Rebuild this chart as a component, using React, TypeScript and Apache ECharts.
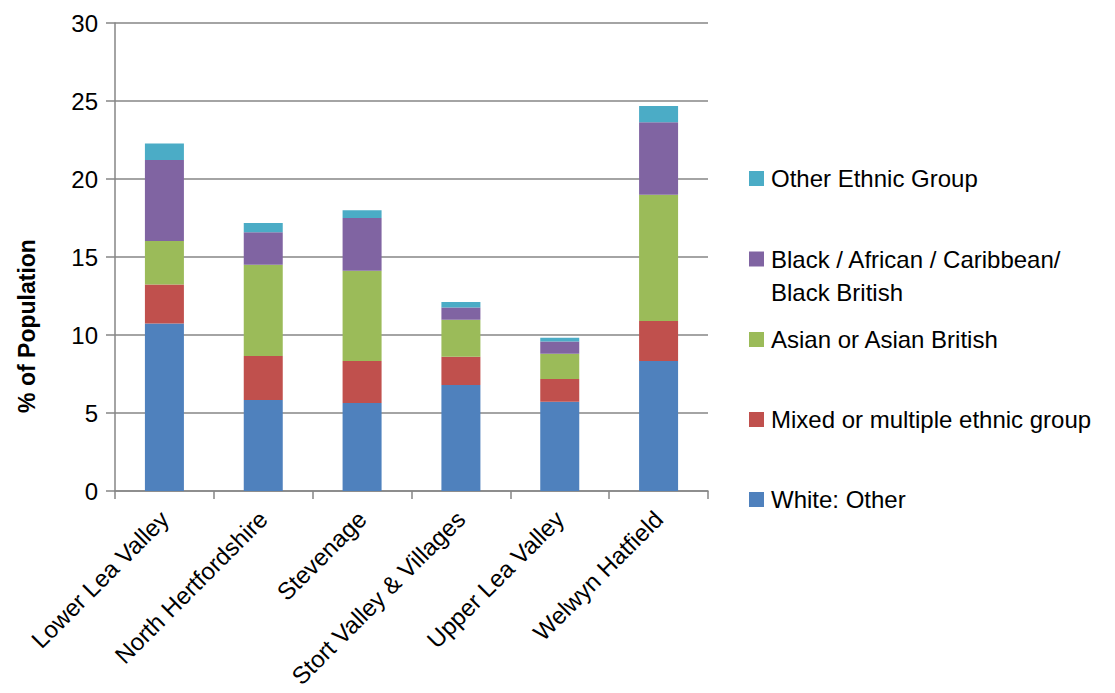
import React, { useEffect, useRef } from "react";
import * as echarts from "echarts";

const categories = [
  "Lower Lea Valley",
  "North Hertfordshire",
  "Stevenage",
  "Stort Valley & Villages",
  "Upper Lea Valley",
  "Welwyn Hatfield",
];

const whiteOther = [10.74, 5.83, 5.64, 6.79, 5.72, 8.33];
const mixed = [2.5, 2.82, 2.69, 1.82, 1.46, 2.57];
const asian = [2.79, 5.85, 5.79, 2.37, 1.62, 8.09];
const black = [5.19, 2.08, 3.38, 0.79, 0.79, 4.64];
const otherEthnic = [1.06, 0.6, 0.49, 0.35, 0.24, 1.05];

const seriesNames = [
  "White: Other",
  "Mixed or multiple ethnic group",
  "Asian or Asian British",
  "Black / African / Caribbean/ Black British",
  "Other Ethnic Group",
];
const seriesColors = ["#4F81BD", "#C0504D", "#9BBB59", "#8064A2", "#4BACC6"];
const yTicks = [0, 5, 10, 15, 20, 25, 30];

const FONT = "'Liberation Sans', Arial, sans-serif";

export default function App() {
  const ref = useRef<HTMLDivElement>(null);

  useEffect(() => {
    if (!ref.current) return;
    const chart = echarts.init(ref.current, undefined, { renderer: "svg" });
    const values = [whiteOther, mixed, asian, black, otherEthnic];

    const legendItems = [
      { name: "Other Ethnic Group", color: seriesColors[4], y: 178.5, lines: ["Other Ethnic Group"] },
      { name: seriesNames[3], color: seriesColors[3], y: 259, lines: ["Black / African / Caribbean/", "Black British"] },
      { name: seriesNames[2], color: seriesColors[2], y: 339.5, lines: ["Asian or Asian British"] },
      { name: seriesNames[1], color: seriesColors[1], y: 419.5, lines: ["Mixed or multiple ethnic group"] },
      { name: seriesNames[0], color: seriesColors[0], y: 499.5, lines: ["White: Other"] },
    ];

    const graphic: any[] = [];
    legendItems.forEach((it) => {
      graphic.push({
        type: "rect",
        left: 749,
        top: it.y - 7.5,
        shape: { width: 15, height: 15 },
        style: { fill: it.color },
      });
      it.lines.forEach((ln, i) => {
        graphic.push({
          type: "text",
          x: 771,
          y: it.y + i * 33,
          style: {
            text: ln,
            font: `24px ${FONT}`,
            fill: "#000",
            verticalAlign: "middle",
          },
        });
      });
    });
    graphic.push({
      type: "text",
      x: 27,
      y: 326,
      rotation: Math.PI / 2,
      style: {
        text: "% of Population",
        font: `bold 23px ${FONT}`,
        fill: "#000",
        align: "center",
        verticalAlign: "middle",
      },
    });

    chart.setOption({
      animation: false,
      backgroundColor: "#ffffff",
      grid: { left: 115, right: 407, top: 23, bottom: 202, containLabel: false },
      xAxis: {
        type: "category",
        data: categories,
        axisLine: { show: true, lineStyle: { color: "#868686", width: 1.5 } },
        axisTick: { show: true, length: 8, alignWithLabel: false, lineStyle: { color: "#868686", width: 1.5 } },
        axisLabel: {
          rotate: 45,
          interval: 0,
          margin: 24,
          fontSize: 24,
          fontFamily: FONT,
          color: "#000",
        },
        splitLine: { show: false },
      },
      yAxis: {
        type: "value",
        min: 0,
        max: 30,
        interval: 5,
        axisLine: { show: true, lineStyle: { color: "#868686", width: 1.5 } },
        axisTick: { show: true, length: 9, inside: false, lineStyle: { color: "#868686", width: 1.5 } },
        axisLabel: {
          margin: 17,
          fontSize: 24,
          fontFamily: FONT,
          color: "#000",
          formatter: (v: number) => (yTicks.includes(v) ? String(v) : ""),
        },
        splitLine: { show: true, lineStyle: { color: "#868686", width: 1.5 } },
      },
      series: seriesNames.map((name, i) => ({
        name,
        type: "bar",
        stack: "total",
        barWidth: 39,
        data: values[i],
        itemStyle: { color: seriesColors[i] },
      })),
      graphic,
    });

    return () => chart.dispose();
  }, []);

  return (
    <div
      ref={ref}
      style={{ position: "fixed", left: 0, top: 0, width: 1115, height: 693, background: "#fff" }}
    />
  );
}
